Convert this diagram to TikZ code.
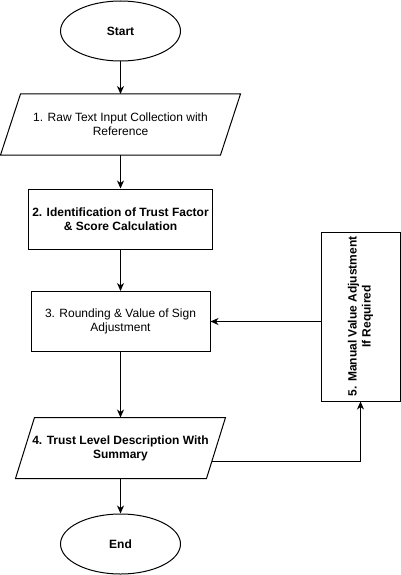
\documentclass[tikz,border=0pt]{standalone}
\usepackage{fontspec}
\setmainfont{Liberation Sans}
\usetikzlibrary{arrows.meta,shapes.geometric}
\begin{document}
\begin{tikzpicture}[x=1pt,y=1pt,line width=1pt,
 term/.style={draw,ellipse,minimum width=120pt,minimum height=60pt,font=\fontsize{12}{14}\selectfont\bfseries},
 proc/.style={draw,rectangle,minimum width=179pt,minimum height=60pt,align=center,font=\fontsize{12}{14}\selectfont},
 io/.style={rectangle,minimum height=60pt,align=center,font=\fontsize{12}{14}\selectfont},
 arr/.style={-{Stealth[length=8pt,width=7pt,inset=2.5pt]}}]
 \useasboundingbox (0,0) rectangle (401,-575);
 \node[term] (start) at (120.5,-31) {Start};
 \node[io,minimum width=219pt] (input) at (120.5,-124.5) {1. Raw Text Input Collection with\\Reference};
 \node[proc,font=\fontsize{12}{14}\selectfont\bfseries] (score) at (120.5,-219) {2. Identification of Trust Factor\\\& Score Calculation};
 \node[proc] (round) at (120.5,-321.5) {3. Rounding \& Value of Sign\\Adjustment};
 \node[io,minimum width=190pt,font=\fontsize{12}{14}\selectfont\bfseries] (level) at (120.5,-448) {4. Trust Level Description With\\Summary};
 \node[term] (end) at (120.5,-544) {End};
 \node[draw,minimum width=79pt,minimum height=169pt] (manual) at (360.5,-316.5) {};
 \node[rotate=90,align=center,font=\fontsize{12}{14}\selectfont\bfseries] (manualtext) at (manual.center) {5. Manual Value Adjustment\\If Required};

 % slanted sides of the input/output boxes
 \foreach \n/\s in {input/10,level/9.5}
  \draw ([xshift=\s pt]\n.north west) -- ([xshift=\s pt]\n.north east) -- ([xshift=-\s pt]\n.south east) -- ([xshift=-\s pt]\n.south west) -- cycle;

 \draw[arr] (start.south) -- (input.north);
 \draw[arr] (input.south) -- (score.north);
 \draw[arr] (score.south) -- (round.north);
 \draw[arr] (round.south) -- (level.north);
 \draw[arr] (level.south) -- (end.north);
 \draw[arr] ([xshift=-4pt,yshift=-13pt]level.east) -| (manual.south);
 \draw[arr] (manual.west |- round.east) -- (round.east);
\end{tikzpicture}
\end{document}
